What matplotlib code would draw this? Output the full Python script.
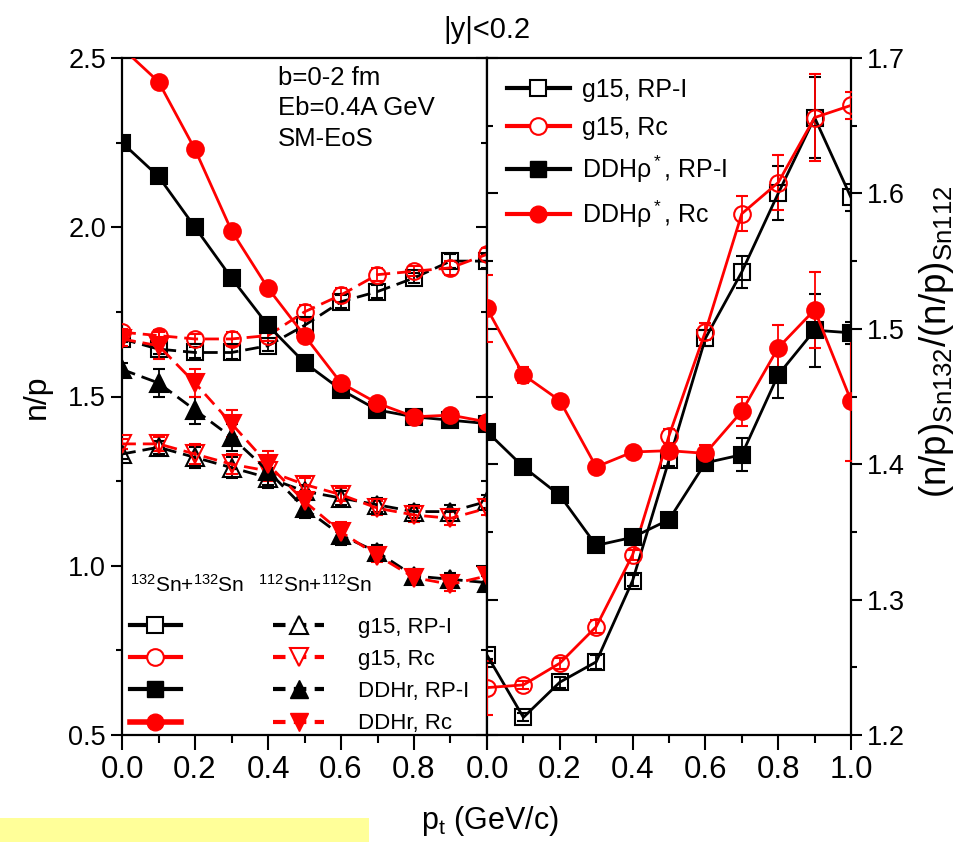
import matplotlib
matplotlib.use('Agg')
import matplotlib.pyplot as plt
from matplotlib.lines import Line2D
from matplotlib.patches import Rectangle
from matplotlib import font_manager as fm
from matplotlib.ticker import MultipleLocator

names = {f.name for f in fm.fontManager.ttflist}
NARROW = 'Liberation Sans Narrow' if 'Liberation Sans Narrow' in names else 'Liberation Sans'
SANS = 'Liberation Sans'

plt.rcParams['font.family'] = [SANS, 'DejaVu Sans']
plt.rcParams['mathtext.fontset'] = 'custom'
plt.rcParams['mathtext.rm'] = SANS
plt.rcParams['mathtext.it'] = SANS + ':italic'
plt.rcParams['mathtext.sf'] = SANS

# ---------------- data ----------------
pt = [0.0, 0.1, 0.2, 0.3, 0.4, 0.5, 0.6, 0.7, 0.8, 0.9, 1.0]

# left panel: n/p
sn132_g15_rpi = [1.67, 1.64, 1.63, 1.63, 1.65, 1.71, 1.78, 1.81, 1.85, 1.90, 1.90]
sn132_g15_rc = [1.69, 1.68, 1.67, 1.67, 1.68, 1.75, 1.80, 1.86, 1.87, 1.88, 1.92]
sn132_ddh_rpi = [2.25, 2.15, 2.00, 1.85, 1.71, 1.60, 1.52, 1.46, 1.44, 1.43, 1.42]
sn132_ddh_rc = [2.53, 2.43, 2.23, 1.99, 1.82, 1.68, 1.54, 1.48, 1.44, 1.445, 1.425]
sn112_g15_rpi = [1.33, 1.35, 1.32, 1.29, 1.26, 1.22, 1.20, 1.18, 1.16, 1.16, 1.19]
sn112_g15_rc = [1.36, 1.36, 1.33, 1.30, 1.28, 1.24, 1.21, 1.17, 1.15, 1.14, 1.17]
sn112_ddh_rpi = [1.58, 1.54, 1.46, 1.38, 1.28, 1.17, 1.09, 1.04, 0.97, 0.96, 0.95]
sn112_ddh_rc = [1.67, 1.65, 1.54, 1.42, 1.30, 1.19, 1.10, 1.03, 0.965, 0.945, 0.97]

err_sq = [0.01, 0.015, 0.015, 0.02, 0.015, 0.02, 0.02, 0.02, 0.015, 0.02, 0.02]
err_tri = [0.015, 0.02, 0.03, 0.03, 0.03, 0.02, 0.02, 0.02, 0.02, 0.02, 0.02]
err_ddh_tri = [0.02, 0.04, 0.04, 0.04, 0.04, 0.03, 0.03, 0.02, 0.02, 0.02, 0.02]
err_ddh_sq = [0.01, 0.01, 0.01, 0.01, 0.01, 0.015, 0.015, 0.015, 0.01, 0.015, 0.015]

# right panel: ratio
r_g15_rpi = [1.259, 1.213, 1.239, 1.254, 1.314, 1.403, 1.493, 1.542, 1.600, 1.656, 1.597]
r_g15_rc = [1.235, 1.237, 1.253, 1.280, 1.333, 1.421, 1.498, 1.585, 1.608, 1.656, 1.665]
r_ddh_rpi = [1.424, 1.398, 1.377, 1.340, 1.346, 1.359, 1.401, 1.407, 1.466, 1.499, 1.497]
r_ddh_rc = [1.515, 1.466, 1.447, 1.398, 1.409, 1.410, 1.408, 1.439, 1.486, 1.514, 1.447]

e_g15_rpi = [0.003, 0.003, 0.004, 0.005, 0.004, 0.004, 0.006, 0.012, 0.02, 0.03, 0.01]
e_g15_rc = [0.02, 0.003, 0.004, 0.005, 0.004, 0.005, 0.006, 0.013, 0.02, 0.032, 0.01]
e_ddh_rpi = [0.003, 0.003, 0.003, 0.003, 0.004, 0.004, 0.006, 0.012, 0.017, 0.027, 0.008]
e_ddh_rc = [0.025, 0.006, 0.003, 0.003, 0.003, 0.003, 0.006, 0.011, 0.017, 0.028, 0.045]

legend_left_labels = ['g15, RP-I', 'g15, Rc', 'DDHr, RP-I', 'DDHr, Rc']
legend_right_labels = ['g15, RP-I', 'g15, Rc', 'DDHρ$^*$, RP-I', 'DDHρ$^*$, Rc']
info_lines = ['b=0-2 fm', 'Eb=0.4A GeV', 'SM-EoS']

RED = '#ff0000'
BLK = '#000000'

W, H = 959, 842
fig = plt.figure(figsize=(W / 100, H / 100), dpi=100)
ax1 = fig.add_axes([122 / W, 107 / H, 365 / W, 677 / H])
ax2 = fig.add_axes([487 / W, 107 / H, 364 / W, 677 / H])

DASH = (0, (5, 2.5))
MS = 12

def series(ax, y, e, color, marker, filled, ls, ms=MS, lw=2.0, z=3):
    ax.errorbar(pt, y, yerr=e, color=color, ls=ls, lw=lw, marker=marker, ms=ms,
                mfc=color if filled else 'none', mec=color, mew=1.5,
                ecolor=color, elinewidth=1.3, capsize=4, capthick=1.3, zorder=z)

# left panel
series(ax1, sn112_g15_rpi, err_tri, BLK, '^', False, DASH, ms=13)
series(ax1, sn112_g15_rc, err_tri, RED, 'v', False, DASH, ms=13)
series(ax1, sn132_g15_rpi, err_sq, BLK, 's', False, DASH)
series(ax1, sn132_g15_rc, err_sq, RED, 'o', False, DASH)
series(ax1, sn132_ddh_rpi, err_ddh_sq, BLK, 's', True, '-', z=4)
series(ax1, sn132_ddh_rc, err_ddh_sq, RED, 'o', True, '-', z=4)
series(ax1, sn112_ddh_rpi, err_ddh_tri, BLK, '^', True, DASH, ms=13, z=4)
series(ax1, sn112_ddh_rc, err_ddh_tri, RED, 'v', True, DASH, ms=13, z=4)

ax1.set_xlim(0, 1.0)
ax1.set_ylim(0.5, 2.5)
ax1.xaxis.set_minor_locator(MultipleLocator(0.1))
ax1.yaxis.set_minor_locator(MultipleLocator(0.25))
ax1.set_xticks([0.0, 0.2, 0.4, 0.6, 0.8, 1.0])
ax1.set_xticklabels(['0.0', '0.2', '0.4', '0.6', '0.8', ''])
ax1.set_yticks([0.5, 1.0, 1.5, 2.0, 2.5])
ax1.set_yticklabels(['0.5', '1.0', '1.5', '2.0', '2.5'])
ax1.tick_params(axis='y', which='both', left=True, right=True, direction='out', width=1.5)
ax1.tick_params(axis='y', which='major', length=8)
ax1.tick_params(axis='y', which='minor', length=4.5)
ax1.tick_params(axis='x', which='both', direction='out', width=1.5)
ax1.tick_params(axis='x', which='major', length=11)
ax1.tick_params(axis='x', which='minor', length=6)
for lab in ax1.get_yticklabels():
    lab.set_fontfamily(SANS); lab.set_fontsize(19.5)
for lab in ax1.get_xticklabels():
    lab.set_fontfamily(NARROW); lab.set_fontsize(22.5)
ax1.set_ylabel('n/p', fontsize=23, labelpad=12)

for t in ax1.yaxis.get_major_ticks() + ax1.yaxis.get_minor_ticks():
    t.tick2line.set_marker(matplotlib.lines.TICKLEFT)
for s in ax1.spines.values():
    s.set_linewidth(1.6)

for line, yy in zip(info_lines, [0.97, 0.926, 0.881]):
    ax1.text(0.428, yy, line, transform=ax1.transAxes, fontfamily=NARROW,
             fontsize=18.5, va='center', ha='left')

# left legend
hl = [Line2D([], [], color=BLK, lw=3, marker='s', ms=MS, mfc='white', mec=BLK, mew=1.5),
      Line2D([], [], color=RED, lw=3, marker='o', ms=MS, mfc='white', mec=RED, mew=1.5),
      Line2D([], [], color=BLK, lw=3, marker='s', ms=MS, mfc=BLK, mec=BLK),
      Line2D([], [], color=RED, lw=4, marker='o', ms=MS, mfc=RED, mec=RED),
      Line2D([], [], color=BLK, lw=3, ls=(0, (3, 2)), marker='^', ms=13, mfc='white', mec=BLK, mew=1.5),
      Line2D([], [], color=RED, lw=3, ls=(0, (3, 2)), marker='v', ms=13, mfc='white', mec=RED, mew=1.5),
      Line2D([], [], color=BLK, lw=3, ls=(0, (3, 2)), marker='^', ms=13, mfc=BLK, mec=BLK),
      Line2D([], [], color=RED, lw=3, ls=(0, (3, 2)), marker='v', ms=13, mfc=RED, mec=RED)]
ax1.legend(hl, [''] * 4 + legend_left_labels, ncol=2, frameon=False,
           loc='lower left', bbox_to_anchor=(0.012, -0.004),
           prop={'family': NARROW, 'size': 16}, handlelength=2.3,
           handletextpad=1.5, columnspacing=2.66, labelspacing=0.5,
           borderpad=0.15, borderaxespad=0.0)
ax1.text(0.022, 0.222, r'$^{132}$Sn+$^{132}$Sn', transform=ax1.transAxes,
         fontfamily=NARROW, fontsize=15, va='center', ha='left')
ax1.text(0.373, 0.222, r'$^{112}$Sn+$^{112}$Sn', transform=ax1.transAxes,
         fontfamily=NARROW, fontsize=15, va='center', ha='left')

# right panel
series(ax2, r_g15_rpi, e_g15_rpi, BLK, 's', False, '-')
series(ax2, r_g15_rc, e_g15_rc, RED, 'o', False, '-')
series(ax2, r_ddh_rpi, e_ddh_rpi, BLK, 's', True, '-', z=4)
series(ax2, r_ddh_rc, e_ddh_rc, RED, 'o', True, '-', z=4)

ax2.set_xlim(0, 1.0)
ax2.set_ylim(1.2, 1.7)
ax2.set_xticks([0.0, 0.2, 0.4, 0.6, 0.8, 1.0])
ax2.set_xticklabels(['0.0', '0.2', '0.4', '0.6', '0.8', '1.0'])
ax2.xaxis.set_minor_locator(MultipleLocator(0.1))
ax2.set_yticks([1.2, 1.3, 1.4, 1.5, 1.6, 1.7])
ax2.set_yticklabels(['1.2', '1.3', '1.4', '1.5', '1.6', '1.7'])
ax2.yaxis.set_minor_locator(MultipleLocator(0.05))
ax2.yaxis.tick_right()
ax2.tick_params(axis='y', which='both', left=True, right=True, direction='out', width=1.5)
ax2.tick_params(axis='y', which='major', length=8)
ax2.tick_params(axis='y', which='minor', length=4.5)
for t in ax2.yaxis.get_major_ticks() + ax2.yaxis.get_minor_ticks():
    t.tick1line.set_marker(matplotlib.lines.TICKRIGHT)
ax2.tick_params(axis='x', which='both', direction='out', width=1.5)
ax2.tick_params(axis='x', which='major', length=11)
ax2.tick_params(axis='x', which='minor', length=6)
for lab in ax2.get_yticklabels():
    lab.set_fontfamily(SANS); lab.set_fontsize(19.5)
for lab in ax2.get_xticklabels():
    lab.set_fontfamily(NARROW); lab.set_fontsize(22.5)
for s in ax2.spines.values():
    s.set_linewidth(1.6)

hr = [Line2D([], [], color=BLK, lw=3, marker='s', ms=MS, mfc='white', mec=BLK, mew=1.5),
      Line2D([], [], color=RED, lw=3, marker='o', ms=MS, mfc='white', mec=RED, mew=1.5),
      Line2D([], [], color=BLK, lw=3, marker='s', ms=MS, mfc=BLK, mec=BLK),
      Line2D([], [], color=RED, lw=3, marker='o', ms=MS, mfc=RED, mec=RED)]
ax2.legend(hr, legend_right_labels, frameon=False, loc='upper left',
           bbox_to_anchor=(0.0, 1.0), prop={'family': SANS, 'size': 18},
           handlelength=2.5, handletextpad=0.5, labelspacing=0.55,
           borderpad=0.3, borderaxespad=0.5)

fig.text(937 / W, 1 - 342 / H, r'(n/p)$_{\rm Sn132}$/(n/p)$_{\rm Sn112}$',
         rotation=90, ha='center', va='center', fontsize=26.5)
fig.text(487 / W, 1 - 30 / H, '|y|<0.2', ha='center', va='center', fontsize=21)
fig.text(490 / W, 1 - 821 / H, r'p$_{\rm t}$ (GeV/c)', ha='center', va='center',
         fontfamily=NARROW, fontsize=22)

fig.patches.append(Rectangle((0, 0), 369 / W, 24 / H, transform=fig.transFigure,
                             facecolor='#ffff99', edgecolor='none', zorder=0))

fig.savefig('out.png', dpi=100)
